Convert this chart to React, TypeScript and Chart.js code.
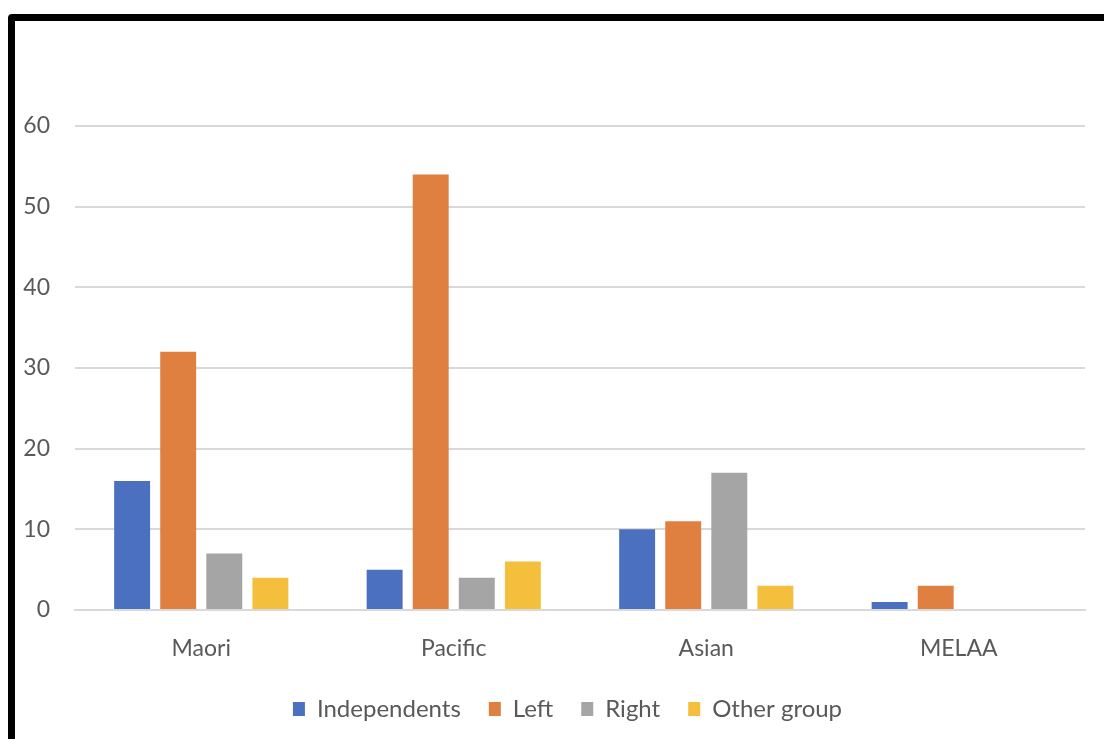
import React, { useEffect, useRef } from "react";
import { Chart, registerables } from "chart.js";

Chart.register(...registerables);

const categories = ["Maori", "Pacific", "Asian", "MELAA"];
const independents = [16, 5, 10, 1];
const left = [32, 54, 11, 3];
const right = [7, 4, 17, 0];
const otherGroup = [4, 6, 3, 0];
const yTicks = [0, 10, 20, 30, 40, 50, 60];

const FONT = "Lato, 'Open Sans', sans-serif";
const TEXT = "#595959";
const SIZE = 23;

// Nudges the legend row to the right of the plot's centre line.
const legendShift = {
  id: "legendShift",
  afterLayout(chart: any) {
    if (chart.legend) {
      chart.legend.left += 25;
      chart.legend.right += 25;
    }
  },
};

export default function App() {
  const ref = useRef<HTMLCanvasElement | null>(null);

  useEffect(() => {
    if (!ref.current) return;
    const chart = new Chart(ref.current, {
      type: "bar",
      data: {
        labels: categories,
        datasets: [
          { label: "Independents", data: independents, backgroundColor: "#4a70bf" },
          { label: "Left", data: left, backgroundColor: "#df7f40" },
          { label: "Right", data: right, backgroundColor: "#a5a5a5" },
          { label: "Other group", data: otherGroup, backgroundColor: "#f3bf3d" },
        ],
      },
      plugins: [legendShift],
      options: {
        animation: false,
        responsive: false,
        maintainAspectRatio: false,
        layout: { padding: { top: 126, right: 19, left: 0, bottom: 8 } },
        datasets: { bar: { categoryPercentage: 0.73, barPercentage: 0.78 } },
        plugins: {
          tooltip: { enabled: false },
          legend: {
            position: "bottom",
            labels: {
              boxWidth: 12,
              boxHeight: 14,
              padding: 28,
              color: TEXT,
              font: { family: FONT, size: 24 },
            },
          },
        },
        scales: {
          x: {
            grid: { display: false, drawTicks: false },
            border: { display: true, color: "#d9d9d9", width: 2 },
            ticks: { color: TEXT, font: { family: FONT, size: SIZE }, padding: 25 },
            afterFit: (s: any) => {
              s.height = 59;
            },
          },
          y: {
            min: 0,
            max: 60,
            afterBuildTicks: (s: any) => {
              s.ticks = yTicks.map((v) => ({ value: v }));
            },
            grid: { color: "#d9d9d9", lineWidth: 2, drawTicks: false },
            border: { display: false },
            ticks: { color: TEXT, font: { family: FONT, size: SIZE }, padding: 25 },
            afterFit: (s: any) => {
              s.width = 75;
            },
          },
        },
      },
    });
    return () => chart.destroy();
  }, []);

  return (
    <div
      style={{
        position: "fixed",
        left: 0,
        top: 0,
        width: 1104,
        height: 739,
        overflow: "hidden",
        background: "#fff",
      }}
    >
      <div
        style={{
          position: "absolute",
          left: 8,
          top: 14,
          width: 1200,
          height: 900,
          border: "7px solid #000",
          borderRadius: 4,
          boxSizing: "border-box",
        }}
      />
      <canvas ref={ref} width={1104} height={739} style={{ position: "absolute", left: 0, top: 0 }} />
    </div>
  );
}
